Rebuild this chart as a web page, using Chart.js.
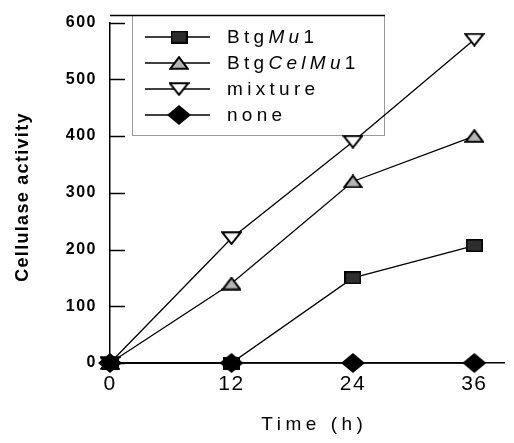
<!DOCTYPE html>
<html>
<head>
<meta charset="utf-8">
<script src="https://cdn.jsdelivr.net/npm/chart.js@4/dist/chart.umd.min.js"></script>
<style>
html,body{margin:0;padding:0;background:#fff;}
#wrap{width:514px;height:443px;position:relative;}
</style>
</head>
<body>
<div id="wrap"><canvas id="c" width="514" height="443"></canvas></div>
<script>
// ---- data ----
const timePoints = [0, 12, 24, 36];
const btgMu1 = [0, 0, 150, 207];
const btgCelMu1 = [0, 140, 320, 400];
const mixture = [0, 220, 390, 570];
const none = [0, 0, 0, 0];
const yTickValues = [0, 100, 200, 300, 400, 500, 600];
const xTickValues = [0, 12, 24, 36];
const seriesLabels = ['BtgMu1', 'BtgCelMu1', 'mixture', 'none'];
// label segments: [text, italic]
const seriesLabelParts = [
  [['Btg', false], ['Mu', true], ['1', false]],
  [['Btg', false], ['CelMu', true], ['1', false]],
  [['mixture', false]],
  [['none', false]]
];
const xTitle = 'Time (h)';
const yTitle = 'Cellulase activity';

const FONT = '"Liberation Sans", Arial, sans-serif';

function mk(w, h, draw) {
  const c = document.createElement('canvas');
  c.width = w; c.height = h;
  draw(c.getContext('2d'));
  return c;
}
const mSquare = mk(17, 13, g => {
  g.fillStyle = '#2e2e2e'; g.fillRect(1, 1, 15, 11);
  g.strokeStyle = '#000'; g.lineWidth = 1.5; g.strokeRect(0.75, 0.75, 15.5, 11.5);
});
const mTriUp = mk(20, 14, g => {
  g.beginPath(); g.moveTo(10, 1.2); g.lineTo(18.8, 12.8); g.lineTo(1.2, 12.8); g.closePath();
  g.fillStyle = '#b4b4b4'; g.fill(); g.strokeStyle = '#000'; g.lineWidth = 2; g.stroke();
});
const mTriDown = mk(21, 14, g => {
  g.beginPath(); g.moveTo(1.2, 1.2); g.lineTo(19.8, 1.2); g.lineTo(10.5, 12.8); g.closePath();
  g.fillStyle = '#fff'; g.fill(); g.strokeStyle = '#000'; g.lineWidth = 2; g.stroke();
});
const mDiamond = mk(24, 20, g => {
  g.beginPath(); g.moveTo(12, 0); g.lineTo(24, 10); g.lineTo(12, 20); g.lineTo(0, 10); g.closePath();
  g.fillStyle = '#000'; g.fill();
});
const markers = [mSquare, mTriUp, mTriDown, mDiamond];
const seriesValues = [btgMu1, btgCelMu1, mixture, none];

function spacedText(ctx, text, x, y, spacing) {
  ctx.letterSpacing = spacing + 'px';
  ctx.fillText(text, x, y);
  const w = ctx.measureText(text).width;
  ctx.letterSpacing = '0px';
  return w;
}

const overlay = {
  id: 'overlay',
  beforeUpdate(chart) { chart.ctx.letterSpacing = '1.5px'; },
  beforeDraw(chart) { chart.ctx.letterSpacing = '1.5px'; },
  beforeDatasetsDraw(chart) {
    const ctx = chart.ctx;
    const ca = chart.chartArea;
    ctx.save();
    ctx.letterSpacing = '0px';
    // legend box
    const L = 132, T = 15, R = 385, B = 136;
    ctx.fillStyle = '#fff';
    ctx.fillRect(L, T, R - L, B - T);
    ctx.strokeStyle = '#9a9a9a'; ctx.lineWidth = 1;
    ctx.strokeRect(L + 0.5, T + 0.5, R - L - 1, B - T - 1);
    ctx.strokeStyle = '#000'; ctx.lineWidth = 1.5;
    ctx.beginPath(); ctx.moveTo(ca.left, T + 0.5); ctx.lineTo(R, T + 0.5); ctx.stroke();
    const rows = [37, 63, 89, 115];
    seriesLabels.forEach((lab, i) => {
      const y = rows[i];
      ctx.strokeStyle = '#000'; ctx.lineWidth = 1.3;
      ctx.beginPath(); ctx.moveTo(145, y); ctx.lineTo(210, y); ctx.stroke();
      const m = markers[i];
      ctx.drawImage(m, 179 - m.width / 2, y - m.height / 2);
      let x = 227;
      ctx.fillStyle = '#000';
      ctx.textBaseline = 'middle';
      ctx.textAlign = 'left';
      seriesLabelParts[i].forEach(([t, it]) => {
        ctx.font = (it ? 'italic ' : '') + '19px ' + FONT;
        x += spacedText(ctx, t, x, y + 1, 4.3);
      });
    });
    ctx.restore();
  },
  afterDraw(chart) {
    const ctx = chart.ctx;
    const ca = chart.chartArea;
    const ya = chart.scales.y;
    ctx.save();
    ctx.letterSpacing = '0px';
    // inward y ticks
    ctx.strokeStyle = '#000'; ctx.lineWidth = 1.5;
    ya.ticks.forEach(t => {
      const py = Math.round(ya.getPixelForValue(t.value)) + 0.5;
      ctx.beginPath(); ctx.moveTo(ca.left, py); ctx.lineTo(ca.left + 15, py); ctx.stroke();
    });
    // x title
    ctx.fillStyle = '#000';
    ctx.font = '19px ' + FONT;
    ctx.textAlign = 'center'; ctx.textBaseline = 'middle';
    ctx.letterSpacing = '4.5px';
    ctx.fillText(xTitle, (ca.left + ca.right) / 2 + 7, 425);
    // y title
    ctx.font = 'bold 18px ' + FONT;
    ctx.letterSpacing = '1.3px';
    ctx.translate(23, 197);
    ctx.rotate(-Math.PI / 2);
    ctx.fillText(yTitle, 0, 0);
    ctx.restore();
  }
};

const datasets = seriesLabels.map((lab, i) => ({
  label: lab,
  data: timePoints.map((t, j) => ({ x: t, y: seriesValues[i][j] })),
  borderColor: '#000',
  borderWidth: 1.3,
  pointStyle: markers[i],
  pointRadius: 8,
  pointHoverRadius: 8,
  fill: false,
  tension: 0,
  clip: false,
  order: i === 3 ? -1 : i
}));

new Chart(document.getElementById('c'), {
  type: 'line',
  data: { datasets },
  plugins: [overlay],
  options: {
    responsive: false,
    animation: false,
    events: [],
    layout: { padding: { top: 16, right: 3, left: 0, bottom: 0 } },
    plugins: { legend: { display: false }, tooltip: { enabled: false } },
    scales: {
      x: {
        type: 'linear', min: 0, max: 39,
        afterBuildTicks: s => { s.ticks = xTickValues.map(v => ({ value: v })); },
        afterFit: s => { s.height = 80; },
        grid: { display: false, drawTicks: false },
        border: { display: true, color: '#000', width: 1.5 },
        ticks: { color: '#000', font: { family: FONT, size: 21 }, padding: 9, maxRotation: 0, autoSkip: false }
      },
      y: {
        type: 'linear', min: 0, max: 600,
        afterBuildTicks: s => { s.ticks = yTickValues.map(v => ({ value: v })); },
        afterFit: s => { s.width = 110; },
        grid: { display: false, drawTicks: false },
        border: { display: true, color: '#000', width: 1.5 },
        ticks: { color: '#000', font: { family: FONT, size: 16, weight: 'bold' }, padding: 13 }
      }
    }
  }
});
</script>
</body>
</html>
